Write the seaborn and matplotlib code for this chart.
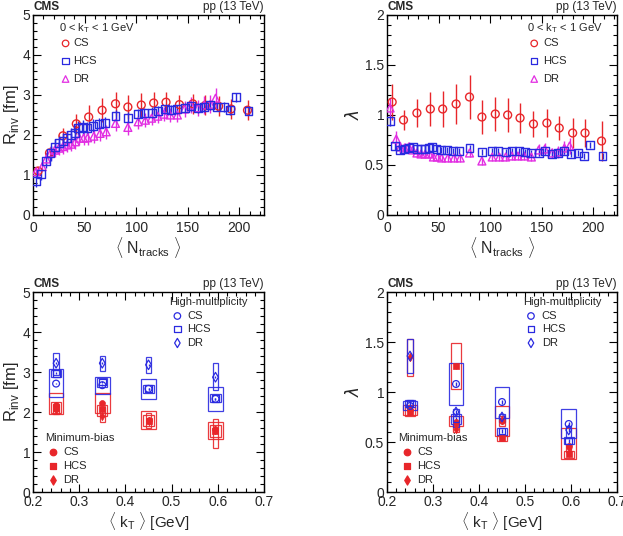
import matplotlib
matplotlib.use('Agg')
import matplotlib.pyplot as plt
from matplotlib.patches import Rectangle
from matplotlib.ticker import MultipleLocator, FuncFormatter
import pandas as pd
import seaborn as sns

# ---- top row: 0 < kT < 1 GeV, vs <Ntracks>
cs_n = [5, 16, 29, 42, 54, 67, 80, 92, 105, 117, 129, 142, 155, 167, 180, 192, 208]
cs_r = [1.10, 1.55, 1.98, 2.28, 2.45, 2.62, 2.78, 2.70, 2.75, 2.80, 2.82, 2.76, 2.78, 2.74, 2.72, 2.65, 2.62]
cs_r_err = [0.10, 0.15, 0.20, 0.25, 0.30, 0.30, 0.30, 0.30, 0.30, 0.28, 0.25, 0.25, 0.25, 0.25, 0.25, 0.25, 0.25]
cs_lam = [1.13, 0.95, 1.02, 1.06, 1.06, 1.11, 1.18, 0.98, 1.01, 1.00, 0.97, 0.91, 0.92, 0.87, 0.82, 0.82, 0.74]
cs_lam_err = [0.18, 0.10, 0.14, 0.17, 0.18, 0.20, 0.22, 0.17, 0.17, 0.17, 0.15, 0.13, 0.14, 0.12, 0.15, 0.14, 0.20]

hcs_n = [3, 8, 13, 17, 21, 25, 29, 33, 37, 41, 44, 48, 52, 58, 64, 70, 80, 92, 102, 108,
         115, 121, 128, 134, 140, 147, 153, 160, 166, 172, 178, 185, 191, 197, 209]
hcs_r = [0.85, 1.02, 1.36, 1.54, 1.71, 1.81, 1.86, 1.92, 2.00, 2.06, 2.17, 2.19, 2.17, 2.23, 2.27, 2.31, 2.48, 2.43, 2.52, 2.54,
         2.56, 2.61, 2.64, 2.62, 2.64, 2.67, 2.72, 2.67, 2.70, 2.74, 2.71, 2.70, 2.63, 2.94, 2.61]
hcs_r_err = [0.15, 0.15, 0.18, 0.18, 0.18, 0.18, 0.18, 0.18, 0.18, 0.18, 0.18, 0.18, 0.16, 0.16, 0.16, 0.15, 0.15, 0.14, 0.14, 0.13,
             0.13, 0.12, 0.12, 0.12, 0.12, 0.12, 0.12, 0.12, 0.12, 0.12, 0.12, 0.12, 0.12, 0.12, 0.12]
hcs_lam = [0.94, 0.69, 0.65, 0.66, 0.67, 0.68, 0.66, 0.66, 0.66, 0.67, 0.68, 0.66, 0.65, 0.65, 0.64, 0.64, 0.67, 0.63, 0.64, 0.64,
           0.63, 0.64, 0.64, 0.63, 0.62, 0.62, 0.64, 0.61, 0.62, 0.64, 0.61, 0.62, 0.59, 0.70, 0.59]
hcs_lam_err = [0.05, 0.04, 0.04, 0.04, 0.04, 0.04, 0.04, 0.04, 0.04, 0.04, 0.04, 0.03, 0.03, 0.03, 0.03, 0.03, 0.03, 0.03, 0.03, 0.03,
               0.03, 0.03, 0.03, 0.03, 0.03, 0.03, 0.03, 0.03, 0.03, 0.03, 0.03, 0.03, 0.03, 0.03, 0.03]

dr_n = [3, 9, 13, 17, 21, 25, 29, 33, 37, 41, 45, 49, 53, 59, 65, 71, 80, 92, 102, 109,
        115, 121, 127, 133, 140, 147, 153, 160, 166, 172, 177]
dr_r = [1.08, 1.21, 1.40, 1.55, 1.62, 1.67, 1.71, 1.75, 1.77, 1.83, 1.92, 1.92, 1.93, 1.97, 2.04, 2.08, 2.29, 2.19, 2.33, 2.37,
        2.42, 2.47, 2.52, 2.50, 2.50, 2.65, 2.75, 2.68, 2.75, 2.77, 2.92]
dr_r_err = [0.10, 0.12, 0.15, 0.17, 0.18, 0.18, 0.18, 0.18, 0.18, 0.18, 0.18, 0.18, 0.18, 0.18, 0.18, 0.18, 0.18, 0.18, 0.18, 0.18,
            0.18, 0.18, 0.18, 0.18, 0.18, 0.20, 0.20, 0.20, 0.22, 0.22, 0.25]
dr_lam = [1.07, 0.76, 0.68, 0.67, 0.68, 0.65, 0.62, 0.61, 0.61, 0.61, 0.58, 0.58, 0.57, 0.57, 0.57, 0.57, 0.62, 0.54, 0.58, 0.58,
          0.58, 0.59, 0.59, 0.59, 0.58, 0.65, 0.66, 0.62, 0.63, 0.67, 0.69]
dr_lam_err = [0.10, 0.08, 0.05, 0.05, 0.05, 0.04, 0.04, 0.04, 0.04, 0.04, 0.04, 0.04, 0.04, 0.04, 0.04, 0.04, 0.04, 0.04, 0.04, 0.04,
              0.04, 0.04, 0.04, 0.04, 0.04, 0.06, 0.06, 0.05, 0.06, 0.07, 0.08]

# ---- bottom row: vs <kT>
kt = [0.25, 0.35, 0.45, 0.595]

# R_inv, high multiplicity
hm_cs_r = [2.71, 2.67, 2.58, 2.33]
hm_cs_r_lo = [2.37, 2.45, 2.32, 2.02]
hm_cs_r_hi = [3.07, 2.88, 2.82, 2.63]
hm_hcs_r = [2.97, 2.75, 2.58, 2.33]
hm_hcs_r_lo = [2.88, 2.63, 2.48, 2.24]
hm_hcs_r_hi = [3.06, 2.86, 2.68, 2.44]
hm_dr_r = [3.22, 3.22, 3.18, 2.87]
hm_dr_r_lo = [2.92, 3.03, 2.97, 2.55]
hm_dr_r_hi = [3.48, 3.40, 3.38, 3.22]
# R_inv, minimum bias
mb_cs_r = [2.18, 2.22, 1.80, 1.58]
mb_cs_r_lo = [1.95, 1.98, 1.58, 1.32]
mb_cs_r_hi = [2.48, 2.48, 2.02, 1.76]
mb_hcs_r = [2.10, 2.07, 1.78, 1.52]
mb_hcs_r_lo = [1.98, 1.90, 1.65, 1.38]
mb_hcs_r_hi = [2.25, 2.18, 1.92, 1.68]
mb_dr_r = [2.05, 1.90, 1.78, 1.55]
mb_dr_r_lo = [1.96, 1.75, 1.60, 1.10]
mb_dr_r_hi = [2.20, 2.12, 1.98, 1.82]

# lambda, high multiplicity
hm_cs_lam = [0.86, 1.08, 0.90, 0.68]
hm_cs_lam_lo = [0.82, 0.87, 0.74, 0.54]
hm_cs_lam_hi = [0.91, 1.29, 1.05, 0.83]
hm_hcs_lam = [0.89, 0.73, 0.61, 0.51]
hm_hcs_lam_lo = [0.85, 0.68, 0.57, 0.48]
hm_hcs_lam_hi = [0.92, 0.78, 0.64, 0.55]
hm_dr_lam = [1.36, 0.80, 0.75, 0.62]
hm_dr_lam_lo = [1.19, 0.65, 0.70, 0.54]
hm_dr_lam_hi = [1.53, 0.83, 0.78, 0.66]
# lambda, minimum bias
mb_cs_lam = [0.82, 0.70, 0.71, 0.46]
mb_cs_lam_lo = [0.77, 0.66, 0.56, 0.33]
mb_cs_lam_hi = [0.87, 0.76, 0.86, 0.64]
mb_hcs_lam = [0.80, 1.26, 0.54, 0.38]
mb_hcs_lam_lo = [0.76, 1.03, 0.51, 0.34]
mb_hcs_lam_hi = [0.85, 1.49, 0.57, 0.41]
mb_dr_lam = [1.35, 0.63, 0.72, 0.44]
mb_dr_lam_lo = [1.16, 0.60, 0.66, 0.40]
mb_dr_lam_hi = [1.53, 0.67, 0.76, 0.48]

RED = '#e8262a'
BLUE = '#2a2ae0'
MAG = '#e22ee2'

sns.set_theme(style='ticks')
plt.rcParams['font.family'] = ['Liberation Sans', 'DejaVu Sans']
plt.rcParams['mathtext.fontset'] = 'custom'
plt.rcParams['mathtext.rm'] = 'Liberation Sans'
plt.rcParams['axes.linewidth'] = 1.0

fig = plt.figure(figsize=(6.23, 5.36), dpi=100)
W, H = 623, 536
def add_ax(left, top, w=231, h=200):
    return fig.add_axes([left / W, 1 - (top + h) / H, w / W, h / H])

ax1 = add_ax(33, 15)
ax2 = add_ax(387, 15, 230)
ax3 = add_ax(33, 292)
ax4 = add_ax(387, 292, 230)

fmt = FuncFormatter(lambda v, p: '{:g}'.format(round(v, 3)))


def points(ax, x, y, err, marker, color, s=32, open_=True, lw=1.0):
    df = pd.DataFrame({'x': x, 'y': y, 'err': err})
    ax.errorbar(df['x'], df['y'], yerr=df['err'], fmt='none', ecolor=color,
                elinewidth=1.0, capsize=0, zorder=2)
    sns.scatterplot(data=df, x='x', y='y', marker=marker, s=s, color=color,
                    linewidth=lw, ax=ax, zorder=3, legend=False)
    pts = ax.collections[-1]
    if open_:
        pts.set_facecolor('none')
    pts.set_edgecolor(color)


def boxes(ax, x, lo, hi, half, color):
    for xi, a, b in zip(x, lo, hi):
        ax.add_patch(Rectangle((xi - half, a), 2 * half, b - a, fill=False,
                               edgecolor=color, lw=0.9, alpha=0.9, zorder=1))


def style(ax, xlim, ylim, xmaj, xmin, ymaj, ymin, xlabel, ylabel, ylab_x, xlab_y, xpad, xfs):
    ax.set_xlim(*xlim)
    ax.set_ylim(*ylim)
    ax.xaxis.set_major_locator(MultipleLocator(xmaj))
    ax.xaxis.set_minor_locator(MultipleLocator(xmin))
    ax.yaxis.set_major_locator(MultipleLocator(ymaj))
    ax.yaxis.set_minor_locator(MultipleLocator(ymin))
    ax.xaxis.set_major_formatter(fmt)
    ax.yaxis.set_major_formatter(fmt)
    ax.tick_params(which='both', direction='in', top=True, right=True, labelsize=10, color='black')
    ax.tick_params(which='major', length=6, width=0.8)
    ax.tick_params(which='minor', length=3, width=0.8)
    ax.tick_params(axis='x', which='major', pad=xpad)
    ax.tick_params(axis='y', which='major', pad=2)
    for sp in ax.spines.values():
        sp.set_color('black')
    ax.set_xlabel(xlabel, fontsize=xfs)
    ax.set_ylabel(ylabel, fontsize=12)
    ax.xaxis.set_label_coords(0.5, xlab_y)
    ax.yaxis.set_label_coords(ylab_x, 0.5)
    ax.text(0.0, 1.012, 'CMS', transform=ax.transAxes, fontsize=8.5, fontweight='bold', va='bottom')
    ax.text(1.0, 1.012, 'pp (13 TeV)', transform=ax.transAxes, fontsize=8.5, ha='right', va='bottom')


def legend(ax, hx, hy, mx, tx, rows, title, entries, open_):
    ax.text(hx, hy, title, transform=ax.transAxes, fontsize=8, va='center')
    for yy, (lab, m, c) in zip(rows, entries):
        ax.scatter([mx], [yy], marker=m, s=22, transform=ax.transAxes,
                   facecolors='none' if open_ else c, edgecolors=c, linewidths=0.9, clip_on=False)
        ax.text(tx, yy, lab, transform=ax.transAxes, fontsize=8, va='center')


NT = r'$\langle$ N$_{\rm tracks}$ $\rangle$'
KT = r'$\langle$ k$_{\rm T}$ $\rangle$ [GeV]'
RINV = r'R$_{\rm inv}$ [fm]'
LAM = r'$\lambda$'

# --- panel 1: R_inv vs Ntracks
points(ax1, cs_n, cs_r, cs_r_err, 'o', RED)
points(ax1, dr_n, dr_r, dr_r_err, '^', MAG)
points(ax1, hcs_n, hcs_r, hcs_r_err, 's', BLUE)
style(ax1, (0, 224), (0, 5), 50, 10, 1, 0.2, NT, RINV, -0.05, -0.1, 4, 11.5)
top_entries = [('CS', 'o', RED), ('HCS', 's', BLUE), ('DR', '^', MAG)]
legend(ax1, 0.113, 0.933, 0.141, 0.174, [0.858, 0.77, 0.68],
       r'0 < k$_{\rm T}$ < 1 GeV', top_entries, True)

# --- panel 2: lambda vs Ntracks
points(ax2, cs_n, cs_lam, cs_lam_err, 'o', RED)
points(ax2, dr_n, dr_lam, dr_lam_err, '^', MAG)
points(ax2, hcs_n, hcs_lam, hcs_lam_err, 's', BLUE)
style(ax2, (0, 223), (0, 2), 50, 10, 0.5, 0.1, NT, LAM, -0.11, -0.1, 4, 11.5)
legend(ax2, 0.607, 0.933, 0.64, 0.68, [0.858, 0.77, 0.68],
       r'0 < k$_{\rm T}$ < 1 GeV', top_entries, True)

# --- bottom panels
half = {'o': 0.016, 's': 0.011, 'd': 0.006}
hm_rows = [0.88, 0.815, 0.745]
mb_rows = [0.20, 0.13, 0.06]


def kt_panel(ax, hm, mb):
    for (y, lo, hi), m in zip(mb, ['o', 's', 'd']):
        boxes(ax, kt, lo, hi, half[m], RED)
    for (y, lo, hi), m in zip(hm, ['o', 's', 'd']):
        boxes(ax, kt, lo, hi, half[m], BLUE)
    for (y, lo, hi), m in zip(mb, ['o', 's', 'd']):
        points(ax, kt, y, [0.03] * len(kt), m, RED, s=18, open_=False, lw=0.5)
    for (y, lo, hi), m in zip(hm, ['o', 's', 'd']):
        points(ax, kt, y, [0.02] * len(kt), m, BLUE, s=24, open_=True, lw=0.9)


kt_panel(ax3,
         [(hm_cs_r, hm_cs_r_lo, hm_cs_r_hi), (hm_hcs_r, hm_hcs_r_lo, hm_hcs_r_hi), (hm_dr_r, hm_dr_r_lo, hm_dr_r_hi)],
         [(mb_cs_r, mb_cs_r_lo, mb_cs_r_hi), (mb_hcs_r, mb_hcs_r_lo, mb_hcs_r_hi), (mb_dr_r, mb_dr_r_lo, mb_dr_r_hi)])
style(ax3, (0.2, 0.7), (0, 5), 0.1, 0.02, 1, 0.2, KT, RINV, -0.05, -0.094, 2.5, 11)
legend(ax3, 0.59, 0.95, 0.625, 0.668, hm_rows, 'High-multiplicity',
       [('CS', 'o', BLUE), ('HCS', 's', BLUE), ('DR', 'd', BLUE)], True)
legend(ax3, 0.052, 0.27, 0.088, 0.13, mb_rows, 'Minimum-bias',
       [('CS', 'o', RED), ('HCS', 's', RED), ('DR', 'd', RED)], False)

kt_panel(ax4,
         [(hm_cs_lam, hm_cs_lam_lo, hm_cs_lam_hi), (hm_hcs_lam, hm_hcs_lam_lo, hm_hcs_lam_hi), (hm_dr_lam, hm_dr_lam_lo, hm_dr_lam_hi)],
         [(mb_cs_lam, mb_cs_lam_lo, mb_cs_lam_hi), (mb_hcs_lam, mb_hcs_lam_lo, mb_hcs_lam_hi), (mb_dr_lam, mb_dr_lam_lo, mb_dr_lam_hi)])
style(ax4, (0.2, 0.7), (0, 2), 0.1, 0.02, 0.5, 0.1, KT, LAM, -0.11, -0.094, 2.5, 11)
legend(ax4, 0.59, 0.95, 0.626, 0.673, hm_rows, 'High-multiplicity',
       [('CS', 'o', BLUE), ('HCS', 's', BLUE), ('DR', 'd', BLUE)], True)
legend(ax4, 0.048, 0.27, 0.087, 0.13, mb_rows, 'Minimum-bias',
       [('CS', 'o', RED), ('HCS', 's', RED), ('DR', 'd', RED)], False)

fig.savefig('out.png', dpi=100)
